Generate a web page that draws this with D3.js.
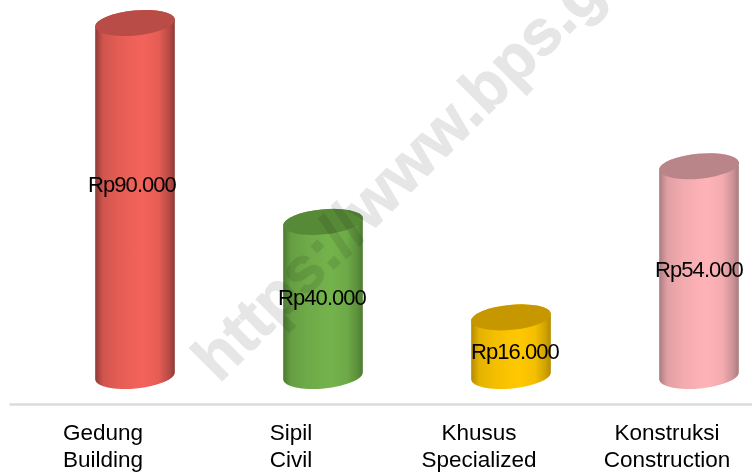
<!DOCTYPE html>
<html>
<head>
<meta charset="utf-8">
<script src="https://cdnjs.cloudflare.com/ajax/libs/d3/7.8.5/d3.min.js"></script>
<style>
  html, body { margin: 0; padding: 0; background: #fff; }
  svg { display: block; font-family: "Liberation Sans", Arial, sans-serif; }
</style>
</head>
<body>
<div id="chart"></div>
<script>
// data
const categories = ['Gedung', 'Sipil', 'Khusus', 'Konstruksi'];
const categoriesEn = ['Building', 'Civil', 'Specialized', 'Construction'];
const values = [90000, 40000, 16000, 54000];

// styles
const COLORS_BODY = ['#f4635b', '#74b34c', '#ffc800', '#ffb3b8'];
const COLORS_DARK = ['#8f3a36', '#4c7a30', '#b38a00', '#a87b7f'];
const COLORS_TOP = ['#b94c47', '#578a37', '#c79700', '#ba8589'];
const LABEL_DX = [-3, -1, 4, 0];
const LABEL_DY = [-18, -4, 2, -4];

const width = 752, height = 472;
const baseY = 381, topY = 23;
const depth = 32;          // offset of the 3D floor
const floorLift = 5;       // the cylinder base sits a bit above y(0)
const rx = 40, ry = 12.5, tilt = -5.5;

const svg = d3.select('#chart').append('svg')
    .attr('width', width)
    .attr('height', height);

const x = d3.scaleBand()
    .domain(categories)
    .range([9, 761])
    .padding(0);

const y = d3.scaleLinear()
    .domain([0, 90000])
    .range([baseY, topY]);

// gradients
const defs = svg.append('defs');
categories.forEach(function(c, i) {
    const g = defs.append('linearGradient')
        .attr('id', 'body' + i)
        .attr('x1', 0).attr('x2', 1).attr('y1', 0).attr('y2', 0);
    const mid = d3.interpolateRgb(COLORS_DARK[i], COLORS_BODY[i]);
    [[0, COLORS_DARK[i]], [0.1, mid(0.65)], [0.3, mid(0.85)], [0.6, COLORS_BODY[i]], [0.8, mid(0.85)], [0.93, mid(0.4)], [1, COLORS_DARK[i]]]
        .forEach(function(s) {
            g.append('stop').attr('offset', s[0]).attr('stop-color', s[1]);
        });
});

// axis
const axis = svg.append('g')
    .attr('transform', 'translate(0,404)')
    .call(d3.axisBottom(x).tickSize(0).tickPadding(0));
axis.select('.domain')
    .attr('stroke', '#d9dcdf')
    .attr('stroke-width', 2.5);
axis.selectAll('.tick text').remove();
axis.selectAll('.tick').each(function(d, i) {
    const t = d3.select(this).append('text')
        .attr('fill', '#000')
        .style('font-size', '22.5px')
        .attr('text-anchor', 'middle');
    t.append('tspan').attr('x', 0).attr('y', 36).text(categories[i]);
    t.append('tspan').attr('x', 0).attr('y', 63).text(categoriesEn[i]);
});

// cylinders
const dx = rx * Math.cos(tilt * Math.PI / 180);
const dy = rx * Math.sin(tilt * Math.PI / 180);

const bars = svg.append('g').selectAll('g')
    .data(values)
    .enter()
    .append('g');

bars.append('path')
    .attr('fill', function(d, i) { return 'url(#body' + i + ')'; })
    .attr('d', function(d, i) {
        const cx = x(categories[i]) + x.bandwidth() / 2 + depth;
        const t = y(d), b = y(0) - floorLift;
        return 'M' + (cx - dx) + ',' + (t - dy)
            + 'L' + (cx - dx) + ',' + (b - dy)
            + 'A' + rx + ',' + ry + ' ' + tilt + ' 0 0 ' + (cx + dx) + ',' + (b + dy)
            + 'L' + (cx + dx) + ',' + (t + dy)
            + 'A' + rx + ',' + ry + ' ' + tilt + ' 0 0 ' + (cx - dx) + ',' + (t - dy) + 'Z';
    });

bars.append('ellipse')
    .attr('fill', function(d, i) { return COLORS_TOP[i]; })
    .attr('rx', rx)
    .attr('ry', ry)
    .attr('transform', function(d, i) {
        const cx = x(categories[i]) + x.bandwidth() / 2 + depth;
        return 'translate(' + cx + ',' + y(d) + ') rotate(' + tilt + ')';
    });

// watermark
svg.append('text')
    .attr('transform', 'translate(219,384) rotate(-45)')
    .attr('fill', '#e6e6e6')
    .attr('stroke', '#e6e6e6')
    .attr('stroke-width', 1)
    .style('font-size', '64px')
    .style('font-weight', 'bold')
    .style('mix-blend-mode', 'multiply')
    .text('https://www.bps.go.id');

// labels
svg.append('g').selectAll('text')
    .data(values)
    .enter()
    .append('text')
    .attr('x', function(d, i) { return x(categories[i]) + x.bandwidth() / 2 + depth + LABEL_DX[i]; })
    .attr('y', function(d, i) { return (y(d) + y(0)) / 2 + LABEL_DY[i]; })
    .attr('dy', '0.35em')
    .attr('text-anchor', 'middle')
    .attr('fill', '#000')
    .style('font-size', '22px')
    .style('letter-spacing', '-0.95px')
    .text(function(d) { return 'Rp' + d3.format(',')(d).replace(/,/g, '.'); });
</script>
</body>
</html>
